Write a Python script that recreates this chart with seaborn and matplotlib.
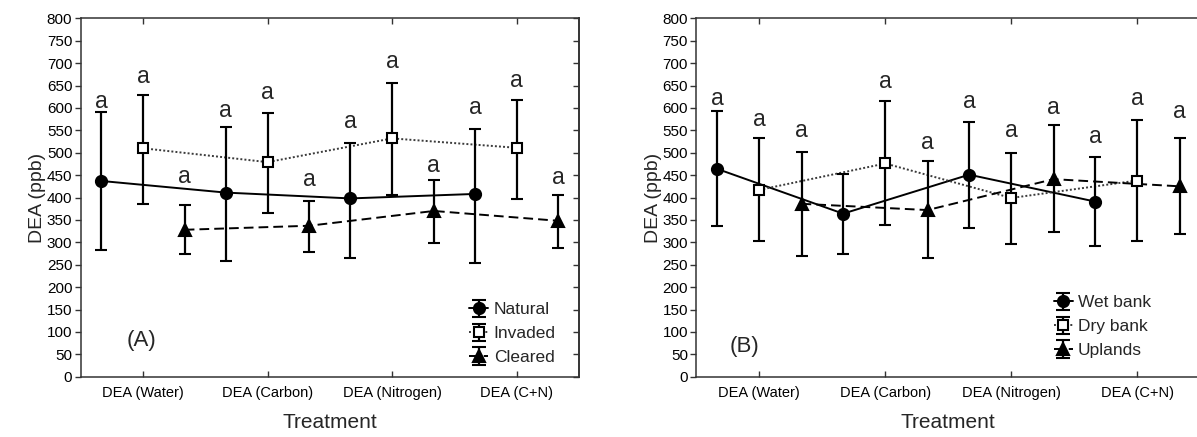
import numpy as np
import pandas as pd
import seaborn as sns
import matplotlib.pyplot as plt

# ---------------- data ----------------
categories = ["DEA (Water)", "DEA (Carbon)", "DEA (Nitrogen)", "DEA (C+N)"]

groups_A = ["Natural", "Invaded", "Cleared"]
natural_mean = [437, 411, 398, 408]
natural_upper = [590, 557, 522, 553]
natural_lower = [283, 258, 266, 254]
invaded_mean = [510, 479, 532, 511]
invaded_upper = [628, 588, 655, 618]
invaded_lower = [386, 365, 406, 396]
cleared_mean = [328, 337, 370, 348]
cleared_upper = [383, 393, 439, 406]
cleared_lower = [273, 278, 299, 287]
natural_letter_y = [614, 595, 569, 601]
invaded_letter_y = [671, 635, 703, 662]
cleared_letter_y = [448, 441, 472, 445]

groups_B = ["Wet bank", "Dry bank", "Uplands"]
wet_mean = [464, 364, 451, 391]
wet_upper = [593, 452, 568, 490]
wet_lower = [337, 275, 333, 291]
dry_mean = [417, 476, 399, 438]
dry_upper = [533, 615, 500, 573]
dry_lower = [302, 339, 296, 303]
upl_mean = [386, 372, 441, 425]
upl_upper = [502, 482, 562, 534]
upl_lower = [269, 266, 323, 318]
wet_letter_y = [621, np.nan, 615, 537]
dry_letter_y = [575, 658, 549, 620]
upl_letter_y = [549, 522, 600, 591]

letter = "a"

# ---------------- style ----------------
sns.set_theme(style="ticks")
plt.rcParams["font.family"] = ["Liberation Sans", "DejaVu Sans"]
plt.rcParams["axes.edgecolor"] = "#333333"

series_style = [
    dict(marker="o", mfc="black", ms=8, color="black", dash=""),
    dict(marker="s", mfc="white", ms=7.5, color="#3a3a3a", dash=(1, 1.1)),
    dict(marker="^", mfc="black", ms=8, color="black", dash=(5, 2.6)),
]
offset = 0.335

fig = plt.figure(figsize=(11.97, 4.37), dpi=100)
axA = fig.add_axes([0.0674, 0.138, 0.4163, 0.820])
axB = fig.add_axes([0.5817, 0.138, 0.4211, 0.820])


def draw_panel(ax, groups, means, uppers, lowers, letters, tag, tag_pos, leg_anchor,
               right_ticks):
    rows = []
    for gi, g in enumerate(groups):
        for ci in range(len(categories)):
            rows.append({"x": ci + (gi - 1) * offset, "y": means[gi][ci], "series": g})
    df = pd.DataFrame(rows)
    sns.lineplot(data=df, x="x", y="y", hue="series", style="series",
                 palette={g: series_style[i]["color"] for i, g in enumerate(groups)},
                 dashes={g: series_style[i]["dash"] for i, g in enumerate(groups)},
                 linewidth=1.4, legend=False, ax=ax, estimator=None, zorder=2)
    handles = []
    for gi, g in enumerate(groups):
        st = series_style[gi]
        x = np.arange(len(categories)) + (gi - 1) * offset
        m = np.array(means[gi], float)
        yerr = [m - np.array(lowers[gi]), np.array(uppers[gi]) - m]
        ax.errorbar(x, m, yerr=yerr, fmt=st["marker"], color="black",
                    mfc=st["mfc"], mec="black", ms=st["ms"], mew=1.5,
                    elinewidth=1.6, capsize=4.5, capthick=1.6, zorder=3)
        for xi, ly in zip(x, letters[gi]):
            if not np.isnan(ly):
                ax.text(xi, ly, letter, ha="center", va="center", fontsize=16.5)
        ls = "-" if st["dash"] == "" else (0, st["dash"])
        h = ax.errorbar([np.nan], [np.nan], yerr=[[np.nan], [np.nan]],
                        marker=st["marker"], linestyle=ls, color=st["color"],
                        ecolor="black", mfc=st["mfc"], mec="black", ms=st["ms"],
                        mew=1.5, elinewidth=1.6, capsize=5, capthick=1.6, lw=1.4)
        handles.append(h)
    ax.legend(handles, groups, loc="center left", bbox_to_anchor=leg_anchor,
              frameon=False, fontsize=12.5, handlelength=1.1, handletextpad=0.3,
              labelspacing=0.5, borderpad=0, borderaxespad=0)

    ax.set_xlim(-0.5, 3.5)
    ax.set_ylim(0, 800)
    ax.set_yticks(np.arange(0, 801, 50))
    ax.set_xticks(np.arange(len(categories)))
    ax.set_xticklabels(categories)
    ax.tick_params(axis="x", direction="in", top=True, bottom=True, length=4,
                   width=1, labelsize=10.5, pad=7, colors="#333333", labelcolor="black")
    ax.tick_params(axis="y", direction="out", left=True, right=False, length=4,
                   width=1, labelsize=11, pad=2, colors="#333333", labelcolor="black")
    if right_ticks:
        sec = ax.secondary_yaxis("right")
        sec.set_yticks(np.arange(0, 801, 50))
        sec.tick_params(direction="in", length=4, width=1, labelright=False,
                        colors="#333333")
    for s in ax.spines.values():
        s.set_linewidth(1.1)
    ax.set_xlabel("Treatment", fontsize=15)
    ax.set_ylabel("DEA (ppb)", fontsize=14)
    ax.xaxis.set_label_coords(0.5, -0.1)
    ax.yaxis.set_label_coords(-0.069, 0.5)
    ax.text(tag_pos[0], tag_pos[1], tag, transform=ax.transAxes, ha="center",
            va="center", fontsize=16)


draw_panel(axA, groups_A,
           [natural_mean, invaded_mean, cleared_mean],
           [natural_upper, invaded_upper, cleared_upper],
           [natural_lower, invaded_lower, cleared_lower],
           [natural_letter_y, invaded_letter_y, cleared_letter_y],
           "(A)", (0.123, 0.100), (0.78, 0.12), True)
draw_panel(axB, groups_B,
           [wet_mean, dry_mean, upl_mean],
           [wet_upper, dry_upper, upl_upper],
           [wet_lower, dry_lower, upl_lower],
           [wet_letter_y, dry_letter_y, upl_letter_y],
           "(B)", (0.096, 0.084), (0.709, 0.1395), False)

fig.savefig("out.png", dpi=100)
